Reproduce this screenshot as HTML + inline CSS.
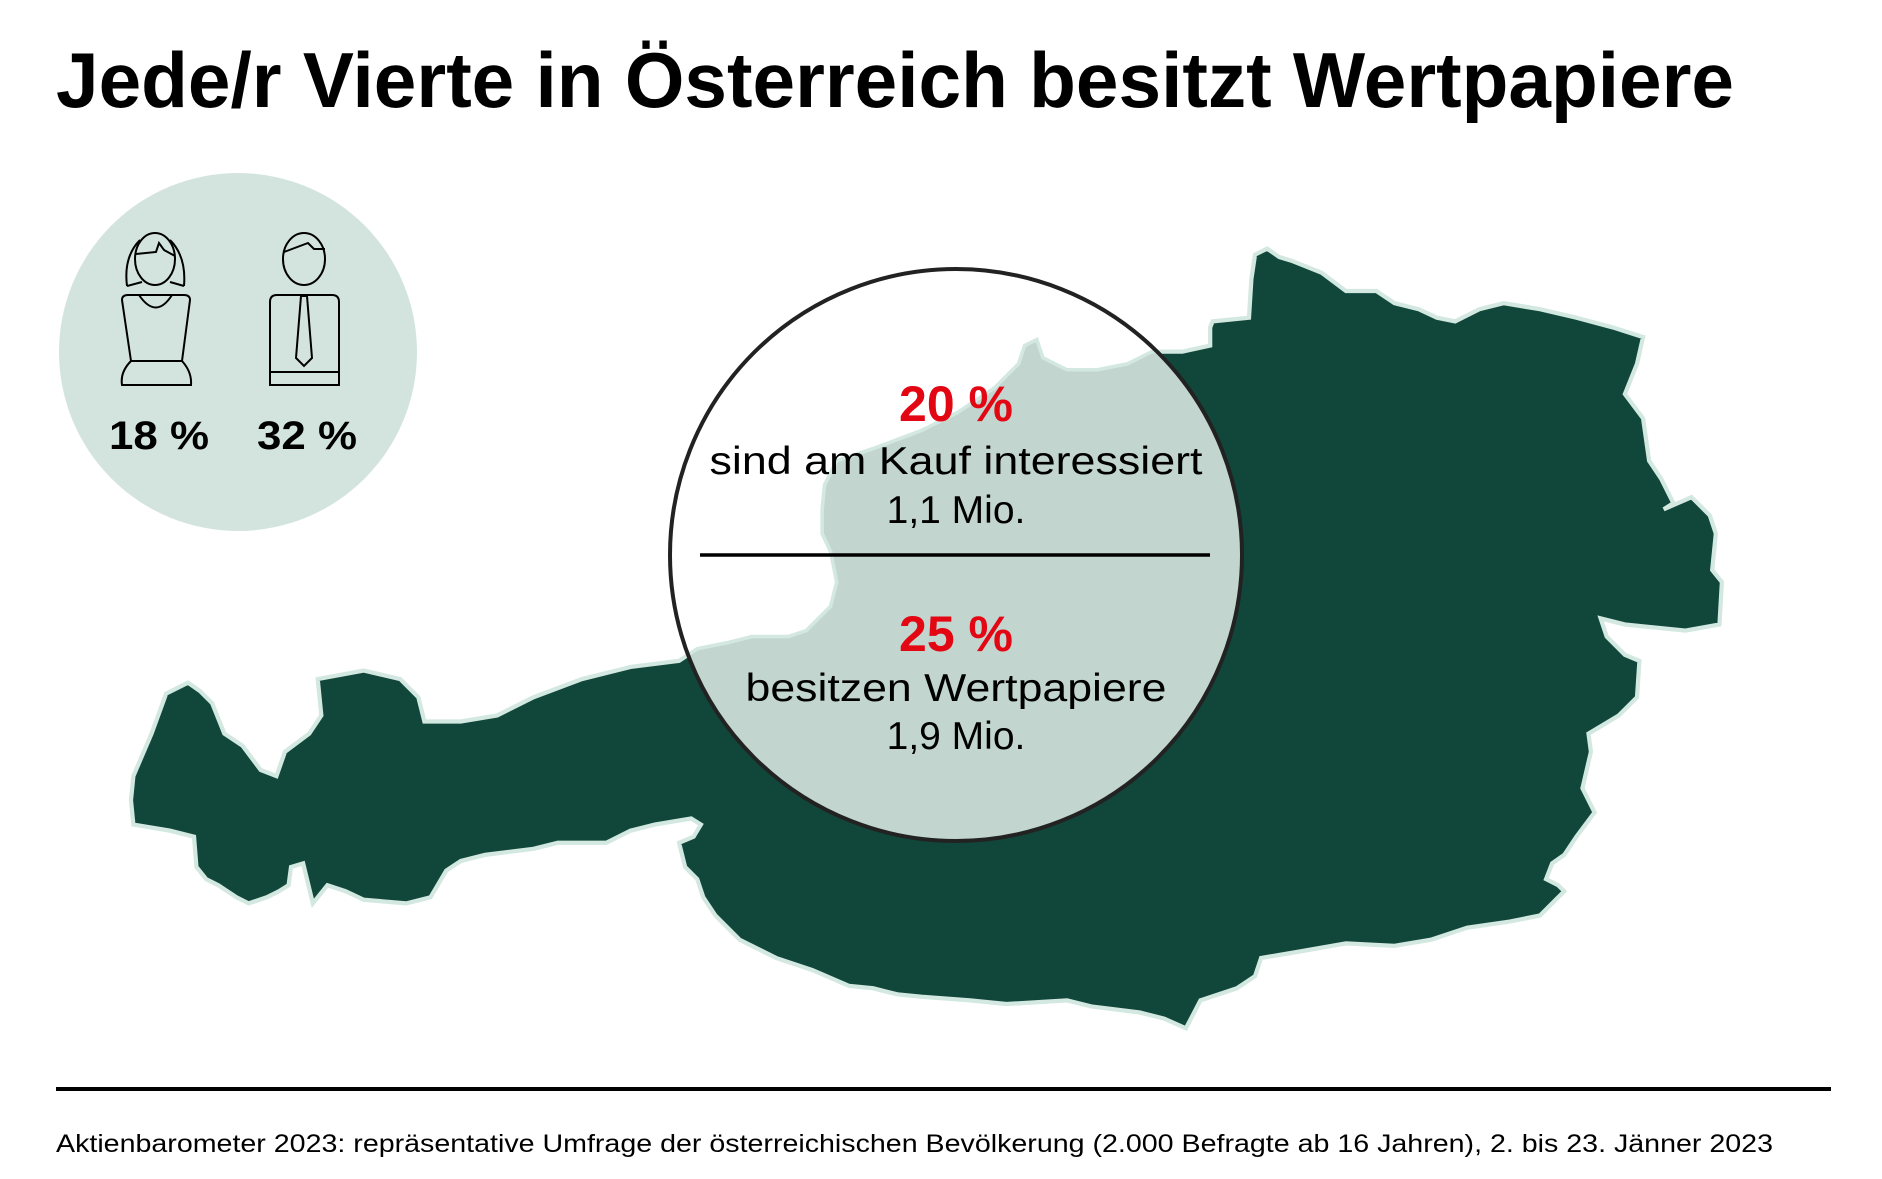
<!DOCTYPE html>
<html><head><meta charset="utf-8"><style>
html,body{margin:0;padding:0;background:#fff}
svg{display:block}
text{font-family:"Liberation Sans",Arial,sans-serif}
</style></head><body>
<svg width="1882" height="1179" viewBox="0 0 1882 1179">
<defs>
<clipPath id="cc"><circle cx="956" cy="555" r="286"/></clipPath>
<path id="aut" transform="scale(1.2126)" d="M110,640 L125,605 L137,572 L155,563 L165,570 L175,580 L185,605 L200,615 L215,635 L228,640 L235,620 L255,605 L265,590 L262,560 L300,553 L330,560 L345,575 L350,595 L380,595 L410,590 L440,575 L480,560 L520,550 L560,545 L575,535 L600,530 L620,525 L650,525 L665,520 L685,500 L690,480 L685,455 L678,440 L678,420 L680,400 L690,380 L720,370 L760,355 L790,340 L820,320 L840,300 L845,285 L855,280 L860,295 L880,305 L905,305 L930,300 L950,290 L975,290 L998,285 L998,270 L1000,265 L1030,262 L1032,230 L1035,210 L1045,205 L1055,212 L1065,215 L1090,225 L1110,240 L1135,240 L1150,250 L1170,255 L1185,262 L1200,265 L1220,255 L1240,250 L1270,255 L1300,262 L1330,270 L1355,278 L1350,300 L1340,325 L1355,345 L1360,380 L1370,395 L1380,415 L1372,420 L1395,410 L1410,425 L1415,440 L1412,470 L1420,480 L1418,515 L1390,520 L1340,515 L1320,510 L1325,525 L1340,540 L1352,545 L1350,575 L1335,590 L1310,605 L1312,620 L1305,650 L1315,670 L1300,690 L1290,705 L1280,712 L1275,725 L1285,730 L1290,735 L1270,755 L1245,760 L1210,765 L1180,775 L1150,780 L1110,778 L1070,785 L1040,790 L1035,805 L1020,815 L990,825 L978,848 L960,840 L940,835 L900,830 L880,825 L830,828 L800,825 L760,822 L740,820 L720,815 L700,813 L670,800 L640,790 L610,775 L590,755 L580,740 L575,725 L565,715 L560,695 L572,690 L578,680 L570,675 L540,680 L520,685 L500,695 L460,695 L440,700 L400,705 L380,710 L368,718 L355,740 L335,745 L300,742 L285,735 L270,730 L258,745 L250,712 L240,715 L238,730 L230,735 L220,740 L205,745 L195,740 L180,730 L170,725 L162,715 L160,690 L140,685 L110,680 L108,660 Z"/>
</defs>

<text x="56" y="107" font-size="78" font-weight="bold" fill="#000" textLength="1678" lengthAdjust="spacingAndGlyphs">Jede/r Vierte in Österreich besitzt Wertpapiere</text>

<g>
<circle cx="238" cy="352" r="179" fill="#d3e4df"/>
<g fill="none" stroke="#000" stroke-width="2">
<ellipse cx="155" cy="259" rx="20" ry="26"/>
<path d="M127,286 C124,262 132,248 140,240 M184,286 C186,262 178,248 170,240 M127,286 L142,282 M184,286 L170,282 M136,254 L156,252 L159,243 L164,250 L175,256"/>
<path d="M122,300 Q122,295 128,295 L184,295 Q190,295 190,300 L182,361 L131,361 Z M139,295 Q156,320 172,295"/>
<path d="M131,361 Q120,372 122,385 L191,385 Q192,372 182,361"/>
</g>
<g fill="none" stroke="#000" stroke-width="2">
<ellipse cx="304" cy="259" rx="21" ry="26"/>
<path d="M284,252 L308,243 L314,249 L325,249"/>
<path d="M270,302 Q270,295 277,295 L332,295 Q339,295 339,302 L339,385 L270,385 Z M270,372 L339,372"/>
<path d="M301,296 L307,296 L312,358 L304,366 L296,358 Z"/>
</g>
<text x="159" y="449" font-size="40" font-weight="bold" text-anchor="middle" textLength="100" lengthAdjust="spacingAndGlyphs">18 %</text>
<text x="307" y="449" font-size="40" font-weight="bold" text-anchor="middle" textLength="100" lengthAdjust="spacingAndGlyphs">32 %</text>
</g>

<g>
<use href="#aut" fill="#11473a" stroke="#d3e8e0" stroke-width="3.5"/>
<circle cx="956" cy="555" r="286" fill="#fff"/>
<g clip-path="url(#cc)"><use href="#aut" fill="#c2d5cf" stroke="#d3e8e0" stroke-width="3"/></g>
<circle cx="956" cy="555" r="286" fill="none" stroke="#222" stroke-width="4"/>
</g>

<line x1="700" y1="555" x2="1210" y2="555" stroke="#000" stroke-width="3.5"/>
<text x="956" y="421" font-size="50" font-weight="bold" fill="#e30613" text-anchor="middle">20 %</text>
<text x="956" y="474" font-size="39" text-anchor="middle" textLength="493" lengthAdjust="spacingAndGlyphs">sind am Kauf interessiert</text>
<text x="956" y="523" font-size="39" text-anchor="middle">1,1 Mio.</text>
<text x="956" y="651" font-size="50" font-weight="bold" fill="#e30613" text-anchor="middle">25 %</text>
<text x="956" y="701" font-size="39" text-anchor="middle" textLength="421" lengthAdjust="spacingAndGlyphs">besitzen Wertpapiere</text>
<text x="956" y="749" font-size="39" text-anchor="middle">1,9 Mio.</text>

<line x1="56" y1="1089" x2="1831" y2="1089" stroke="#000" stroke-width="4"/>
<text x="56" y="1152" font-size="25" fill="#000" textLength="1717" lengthAdjust="spacingAndGlyphs">Aktienbarometer 2023: repräsentative Umfrage der österreichischen Bevölkerung (2.000 Befragte ab 16 Jahren), 2. bis 23. Jänner 2023</text>
</svg>
</body></html>
